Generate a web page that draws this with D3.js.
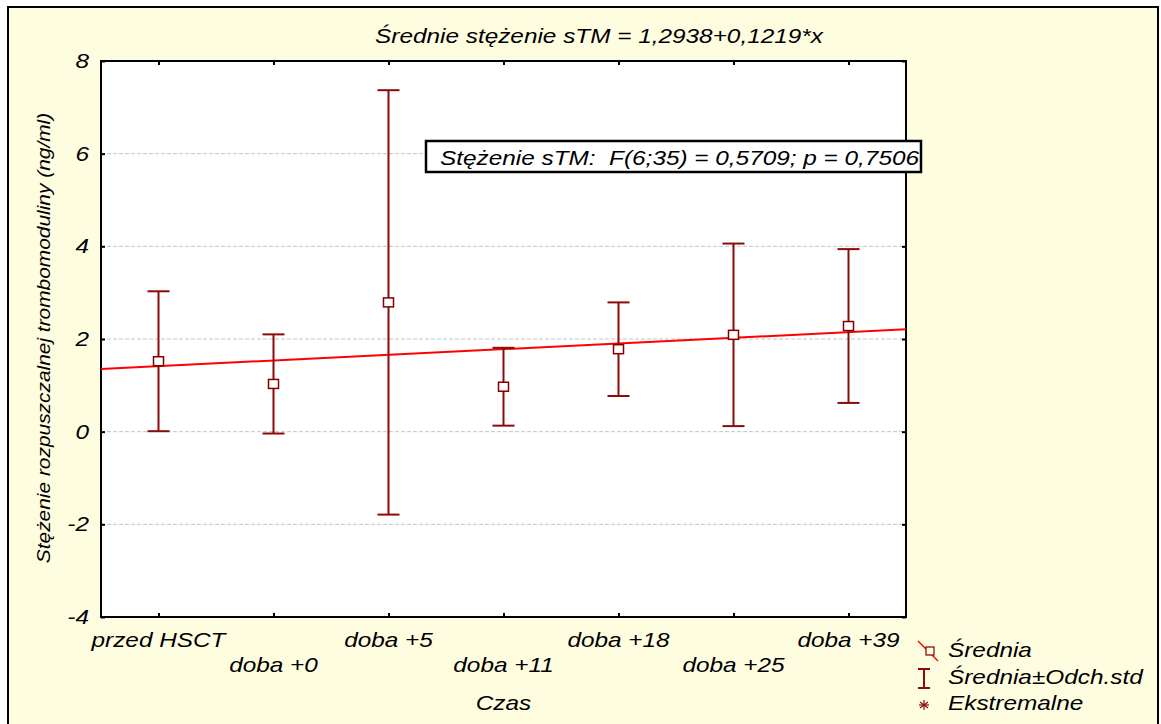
<!DOCTYPE html>
<html>
<head>
<meta charset="utf-8">
<script src="https://cdn.jsdelivr.net/npm/d3@7"></script>
<style>
  html, body { margin: 0; padding: 0; background: #ffffff; }
  svg { display: block; }
  text { font-family: "Liberation Sans", Arial, sans-serif; font-style: italic; fill: #000; white-space: pre; }
</style>
</head>
<body>
<svg id="chart" width="1161" height="724"></svg>
<script>
// ---- data ----
const categories = ["przed HSCT", "doba +0", "doba +5", "doba +11", "doba +18", "doba +25", "doba +39"];
const means = [1.52, 1.03, 2.79, 0.97, 1.78, 2.09, 2.28];
const stdDevs = [1.51, 1.07, 4.58, 0.84, 1.01, 1.97, 1.66];
const yTicks = [-4, -2, 0, 2, 4, 6, 8];
const regIntercept = 1.2938;
const regSlope = 0.1219;
const titleText = "Średnie stężenie sTM = 1,2938+0,1219*x";
const annotText = "Stężenie sTM:  F(6;35) = 0,5709; p = 0,7506";
const xTitle = "Czas";
const yTitle = "Stężenie rozpuszczalnej trombomoduliny (ng/ml)";
const legendLabels = ["Średnia", "Średnia±Odch.std", "Ekstremalne"];

// ---- layout ----
const W = 1161, H = 724;
const plot = { left: 101, top: 61, right: 906, bottom: 617 };
const STRETCH = 1.2;
const FS = 20.3;
const barColor = "#8b0a0a";
const regColor = "#ff0000";

const svg = d3.select("#chart");

// outer background and frame
svg.append("rect").attr("x", 0).attr("y", 0).attr("width", W).attr("height", H).attr("fill", "#ffffff");
svg.append("rect").attr("x", 8).attr("y", 7).attr("width", 1150).attr("height", 730)
  .attr("fill", "#fffde0").attr("stroke", "#000").attr("stroke-width", 2);

// scales
const x = d3.scalePoint().domain(categories).range([plot.left, plot.right]).padding(0.5);
const xNum = d3.scaleLinear().domain([0.5, categories.length + 0.5]).range([plot.left, plot.right]);
const y = d3.scaleLinear().domain([-4, 8]).range([plot.bottom, plot.top]);

// plot area
svg.append("rect").attr("x", plot.left).attr("y", plot.top)
  .attr("width", plot.right - plot.left).attr("height", plot.bottom - plot.top)
  .attr("fill", "#ffffff");

// gridlines
svg.append("g").selectAll("line").data(yTicks.filter(t => t > -4 && t < 8)).join("line")
  .attr("x1", plot.left).attr("x2", plot.right)
  .attr("y1", d => y(d)).attr("y2", d => y(d))
  .attr("stroke", "#c4c4c4").attr("stroke-width", 1).attr("stroke-dasharray", "4,2");

// stretched text helper
function stext(g, str, tx, ty, anchor, size, stretch, rotate) {
  return g.append("text")
    .attr("transform", `translate(${tx},${ty})` + (rotate ? ` rotate(${rotate})` : "") + ` scale(${stretch},1)`)
    .attr("text-anchor", anchor || "start")
    .attr("xml:space", "preserve")
    .style("font-size", (size || FS) + "px")
    .text(str);
}

// axes (D3 axes, styled)
const axL = d3.axisLeft(y).tickValues(yTicks).tickSize(-4).tickFormat("");
const axR = d3.axisRight(y).tickValues(yTicks).tickSize(-4).tickFormat("");
const axT = d3.axisTop(x).tickSize(-4).tickFormat("");
const axB = d3.axisBottom(x).tickSize(-4).tickFormat("");
[[axL, `translate(${plot.left},0)`], [axR, `translate(${plot.right},0)`],
 [axT, `translate(0,${plot.top})`], [axB, `translate(0,${plot.bottom})`]].forEach(([ax, tr]) => {
  const g = svg.append("g").attr("transform", tr).call(ax);
  g.select(".domain").remove();
  g.selectAll(".tick line").attr("stroke", "#000").attr("stroke-width", 2);
});
svg.append("rect").attr("x", plot.left).attr("y", plot.top)
  .attr("width", plot.right - plot.left).attr("height", plot.bottom - plot.top)
  .attr("fill", "none").attr("stroke", "#000").attr("stroke-width", 2);

// y tick labels
const yl = svg.append("g");
yTicks.forEach(t => {
  stext(yl, String(t), 89, y(t) + 7, "end", FS, STRETCH);
});

// x tick labels (staggered)
const xl = svg.append("g");
categories.forEach((c, i) => {
  stext(xl, c, x(c), i % 2 === 0 ? 647 : 672, "middle", FS, STRETCH);
});

// axis titles
stext(svg, xTitle, (plot.left + plot.right) / 2, 710, "middle", FS, STRETCH);
stext(svg, yTitle, 50, 338, "middle", 18.5, 1.13, -90);
stext(svg, titleText, 599, 43, "middle", FS, STRETCH);

// regression line
const reg = d3.line().x(d => xNum(d)).y(d => y(regIntercept + regSlope * d));
svg.append("path").datum([0.5, categories.length + 0.5])
  .attr("d", reg).attr("fill", "none").attr("stroke", regColor).attr("stroke-width", 2);

// error bars
const data = categories.map((c, i) => ({ c, m: means[i], s: stdDevs[i] }));
const eb = svg.append("g");
const capW = 11;
eb.selectAll("line.v").data(data).join("line").attr("class", "v")
  .attr("x1", d => x(d.c)).attr("x2", d => x(d.c))
  .attr("y1", d => y(d.m + d.s)).attr("y2", d => y(d.m - d.s))
  .attr("stroke", barColor).attr("stroke-width", 2);
eb.selectAll("line.cu").data(data).join("line").attr("class", "cu")
  .attr("x1", d => x(d.c) - capW).attr("x2", d => x(d.c) + capW)
  .attr("y1", d => y(d.m + d.s)).attr("y2", d => y(d.m + d.s))
  .attr("stroke", barColor).attr("stroke-width", 2);
eb.selectAll("line.cl").data(data).join("line").attr("class", "cl")
  .attr("x1", d => x(d.c) - capW).attr("x2", d => x(d.c) + capW)
  .attr("y1", d => y(d.m - d.s)).attr("y2", d => y(d.m - d.s))
  .attr("stroke", barColor).attr("stroke-width", 2);
eb.selectAll("rect").data(data).join("rect")
  .attr("x", d => x(d.c) - 5).attr("y", d => y(d.m) - 4.5)
  .attr("width", 10).attr("height", 9)
  .attr("fill", "#ffffff").attr("stroke", "#800000").attr("stroke-width", 1.5);

// annotation box
svg.append("rect").attr("x", 426).attr("y", 141).attr("width", 495).attr("height", 31)
  .attr("fill", "#ffffff").attr("stroke", "#000").attr("stroke-width", 2.5);
stext(svg, annotText, 440, 165, "start", FS, STRETCH);

// legend
const lg = svg.append("g");
lg.append("line").attr("x1", 918).attr("y1", 641).attr("x2", 938).attr("y2", 661)
  .attr("stroke", regColor).attr("stroke-width", 1.5);
lg.append("rect").attr("x", 926).attr("y", 647).attr("width", 8).attr("height", 8)
  .attr("fill", "#fffde0").attr("stroke", "#800000").attr("stroke-width", 1.2);
lg.append("line").attr("x1", 924).attr("x2", 924).attr("y1", 669).attr("y2", 688).attr("stroke", barColor).attr("stroke-width", 2);
lg.append("line").attr("x1", 918).attr("x2", 930).attr("y1", 669).attr("y2", 669).attr("stroke", barColor).attr("stroke-width", 2);
lg.append("line").attr("x1", 918).attr("x2", 930).attr("y1", 688).attr("y2", 688).attr("stroke", barColor).attr("stroke-width", 2);
const ax0 = 924, ay0 = 705;
[[-5, 0, 5, 0], [0, -5, 0, 5], [-4, -3, 4, 3], [-4, 3, 4, -3]].forEach(([a, b, c, d]) => {
  lg.append("line").attr("x1", ax0 + a).attr("y1", ay0 + b).attr("x2", ax0 + c).attr("y2", ay0 + d)
    .attr("stroke", barColor).attr("stroke-width", 1.2);
});
legendLabels.forEach((l, i) => stext(lg, l, 948, 657 + i * 26.5, "start", FS, STRETCH));
</script>
</body>
</html>
